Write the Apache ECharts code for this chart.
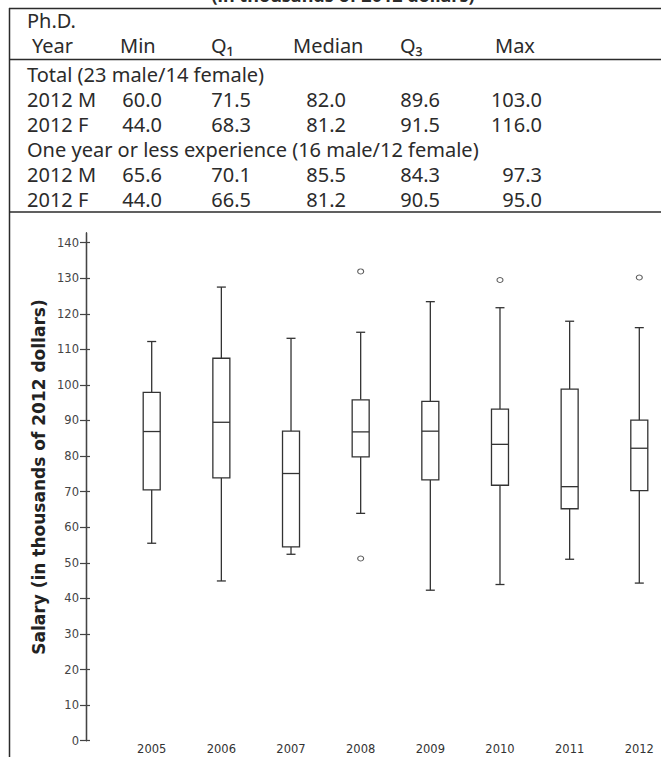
<!DOCTYPE html>
<html>
<head>
<meta charset="utf-8">
<style>
  html, body { margin: 0; padding: 0; background: #fff; }
  #chart { width: 661px; height: 757px; }
</style>
<script src="https://cdn.jsdelivr.net/npm/echarts@6/dist/echarts.min.js"></script>
</head>
<body>
<div id="chart"></div>
<script>
// box plot values, thousands of 2012 dollars
const years = ['2005', '2006', '2007', '2008', '2009', '2010', '2011', '2012'];
const mins    = [55.5, 44.9, 52.4, 63.9, 42.3, 43.9, 51.0, 44.3];
const q1s     = [70.5, 73.9, 54.5, 79.8, 73.3, 71.8, 65.2, 70.3];
const medians = [86.9, 89.5, 75.1, 86.8, 87.0, 83.3, 71.4, 82.2];
const q3s     = [97.9, 107.5, 87.0, 95.8, 95.4, 93.2, 98.8, 90.1];
const maxs    = [112.2, 127.5, 113.1, 114.8, 123.4, 121.7, 117.9, 116.1];
const outliers = [['2008', 131.9], ['2008', 51.2], ['2010', 129.5], ['2012', 130.2]];
const yTicks = [0, 10, 20, 30, 40, 50, 60, 70, 80, 90, 100, 110, 120, 130, 140];

// summary table above the plot
const tableTitle = '(in thousands of 2012 dollars)';
const headTop = 'Ph.D.';
const headCols = ['Year', 'Min', 'Q₁', 'Median', 'Q₃', 'Max'];
const groupTotal = 'Total (23 male/14 female)';
const totalRows = [
  ['2012 M', '60.0', '71.5', '82.0', '89.6', '103.0'],
  ['2012 F', '44.0', '68.3', '81.2', '91.5', '116.0']
];
const groupNew = 'One year or less experience (16 male/12 female)';
const newRows = [
  ['2012 M', '65.6', '70.1', '85.5', '84.3', '97.3'],
  ['2012 F', '44.0', '66.5', '81.2', '90.5', '95.0']
];

const INK = '#2b2b2b';
const TFONT = '20px "Noto Sans"';
const headX = [32, 120, 211, 293, 400, 495];
const numRight = [162, 251, 346, 440, 542];

function txt(text, x, y, font, align) {
  return { type: 'text', x: x, y: y, silent: true,
    style: { text: text, font: font || TFONT, fill: INK, textAlign: align || 'left', textVerticalAlign: 'middle' } };
}
function hline(y, x1, x2) {
  return { type: 'line', silent: true, shape: { x1: x1, y1: y, x2: x2, y2: y }, style: { stroke: INK, lineWidth: 1.5 } };
}
function rowEls(row, y) {
  const out = [txt(row[0], 27, y)];
  for (let i = 1; i < row.length; i++) out.push(txt(row[i], numRight[i - 1], y, TFONT, 'right'));
  return out;
}

const graphics = [
  txt(tableTitle, 343, -5, 'bold 18px "Noto Sans"', 'center'),
  { type: 'line', silent: true, shape: { x1: 9.5, y1: 8, x2: 9.5, y2: 757 }, style: { stroke: INK, lineWidth: 1.5 } },
  hline(8.5, 9, 661), hline(59.5, 9, 661), hline(212, 9, 661),
  txt(headTop, 27, 20)
];
headCols.forEach((h, i) => graphics.push(txt(h, headX[i], 45)));
graphics.push(txt(groupTotal, 27, 74.2));
graphics.push(...rowEls(totalRows[0], 99.2), ...rowEls(totalRows[1], 124.2));
graphics.push(txt(groupNew, 27, 149.2));
graphics.push(...rowEls(newRows[0], 174.2), ...rowEls(newRows[1], 199.2));
graphics.push({ type: 'text', x: 38.5, y: 477, rotation: Math.PI / 2, silent: true,
  style: { text: 'Salary (in thousands of 2012 dollars)', font: 'bold 17px "DejaVu Sans"', fill: '#222',
    textAlign: 'center', textVerticalAlign: 'middle' } });

const boxData = years.map((y, i) => [i, mins[i], q1s[i], medians[i], q3s[i], maxs[i]]);

function renderBox(params, api) {
  const i = api.value(0);
  const pMin = api.coord([i, api.value(1)]);
  const pQ1 = api.coord([i, api.value(2)]);
  const pMed = api.coord([i, api.value(3)]);
  const pQ3 = api.coord([i, api.value(4)]);
  const pMax = api.coord([i, api.value(5)]);
  const cx = pMin[0], hb = 8.5, hc = 4.5;
  const st = { stroke: '#333', lineWidth: 1.3, fill: null };
  const ln = (x1, y1, x2, y2) => ({ type: 'line', shape: { x1, y1, x2, y2 }, style: st });
  return { type: 'group', children: [
    ln(cx, pMax[1], cx, pQ3[1]),
    ln(cx - hc, pMax[1], cx + hc, pMax[1]),
    ln(cx, pQ1[1], cx, pMin[1]),
    ln(cx - hc, pMin[1], cx + hc, pMin[1]),
    { type: 'rect', shape: { x: cx - hb, y: pQ3[1], width: hb * 2, height: pQ1[1] - pQ3[1] },
      style: { stroke: '#333', lineWidth: 1.3, fill: '#fff' } },
    ln(cx - hb, pMed[1], cx + hb, pMed[1])
  ] };
}

const chart = echarts.init(document.getElementById('chart'), null, { renderer: 'svg' });
const yBase = { type: 'value', min: 0, max: 142.7, position: 'left', offset: 65.7, splitLine: { show: false } };
chart.setOption({
  animation: false,
  backgroundColor: '#fff',
  graphic: graphics,
  grid: { left: 151.7, right: 21.7, top: 233, bottom: 16.3 },
  xAxis: { type: 'category', data: years, boundaryGap: false,
    axisLine: { show: false }, axisTick: { show: false },
    axisLabel: { margin: 2, color: '#333', fontFamily: 'DejaVu Sans', fontSize: 11.5 } },
  yAxis: [
    Object.assign({}, yBase, {
      axisLine: { show: true, lineStyle: { color: '#444', width: 1.3 } },
      axisTick: { show: true, length: 6, customValues: yTicks, lineStyle: { color: '#444', width: 1.2 } },
      axisLabel: { customValues: yTicks, margin: 7, color: '#444', fontFamily: 'DejaVu Sans', fontSize: 11.5 } }),
    Object.assign({}, yBase, {
      axisLine: { show: true, lineStyle: { color: '#444', width: 1.3 } },
      axisTick: { show: true, inside: true, length: 4, customValues: yTicks, lineStyle: { color: '#444', width: 1.2 } },
      axisLabel: { show: false } })
  ],
  series: [
    { type: 'custom', renderItem: renderBox, data: boxData, encode: { x: 0, y: [1, 2, 3, 4, 5] } },
    { type: 'scatter', data: outliers, symbol: 'circle', symbolSize: [6, 5],
      itemStyle: { color: '#fff', borderColor: '#333', borderWidth: 1 } }
  ]
});
</script>
</body>
</html>
